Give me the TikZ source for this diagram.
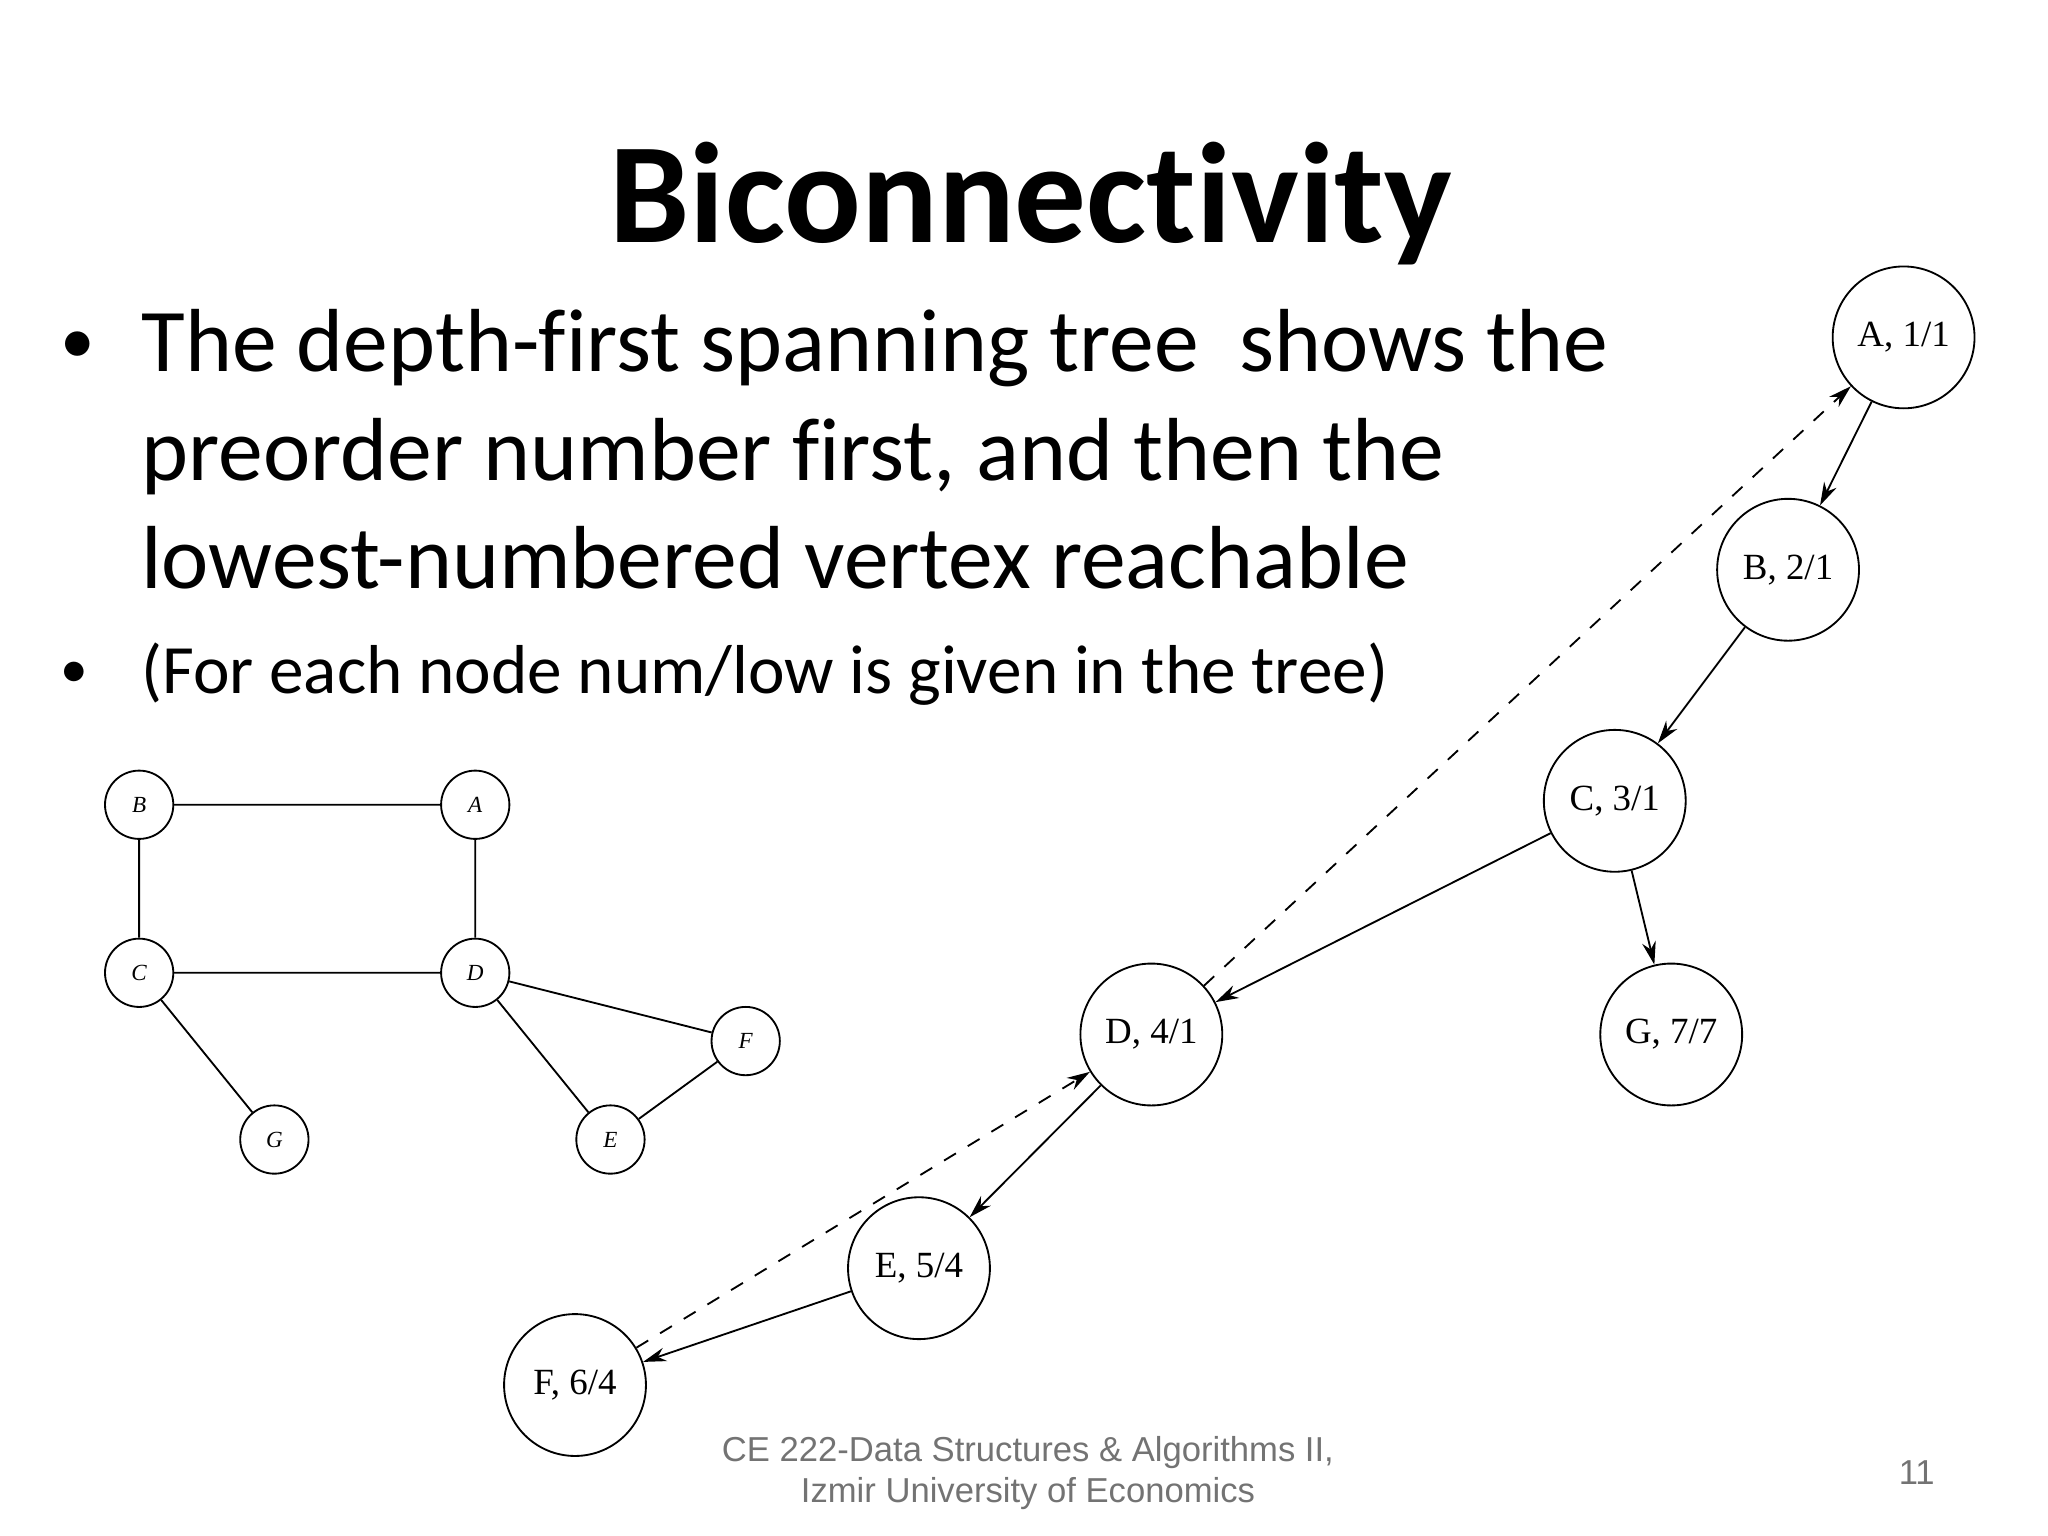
\documentclass[tikz,border=0pt]{standalone}
\usepackage{fontspec}
\setmainfont[Ligatures=NoCommon]{Carlito}
\newfontfamily\serif{Liberation Serif}
\newfontfamily\arial{Liberation Sans}
\usetikzlibrary{arrows.meta}
\definecolor{footgray}{gray}{0.45}
\begin{document}
\begin{tikzpicture}[x=0.01cm,y=-0.01cm,
  tnode/.style={draw,circle,minimum size=1.08cm,inner sep=0pt,font=\serif\fontsize{8}{10}\selectfont},
  gnode/.style={draw,circle,minimum size=0.52cm,inner sep=0pt,font=\serif\itshape\fontsize{5}{6}\selectfont},
  tedge/.style={-{Stealth[length=5pt,width=3pt]},thin},
  bedge/.style={-{Stealth[length=5pt,width=3pt]},thin,dashed},
  txt/.style={anchor=base west,inner sep=0pt}]
\useasboundingbox (0,0) rectangle (1560,1170);
\node[font=\bfseries\fontsize{31}{34}\selectfont] (title) at (785,155) {Biconnectivity};
\node[txt,font=\fontsize{15}{24}\selectfont] (b1) at (45,277) {•};
\node[txt,font=\fontsize{19.4}{24}\selectfont] (l1) at (107,283) {The depth-first spanning tree\ \ shows the};
\node[txt,font=\fontsize{19.4}{24}\selectfont] (l2) at (107,366) {preorder number first, and then the};
\node[txt,font=\fontsize{19.4}{24}\selectfont] (l3) at (107,448) {lowest-numbered vertex reachable};
\node[txt,font=\fontsize{12}{18}\selectfont] (b2) at (45,524) {•};
\node[txt,font=\fontsize{15}{18}\selectfont] (l4) at (107,528) {(For each node num/low is given in the tree)};
% small graph
\node[gnode] (gB) at (106,613) {B};
\node[gnode] (gA) at (362,613) {A};
\node[gnode] (gC) at (106,741) {C};
\node[gnode] (gD) at (362,741) {D};
\node[gnode] (gF) at (568,793) {F};
\node[gnode] (gG) at (209,868) {G};
\node[gnode] (gE) at (465,868) {E};
\draw[thin] (gB)--(gA) (gB)--(gC) (gA)--(gD) (gC)--(gD) (gC)--(gG) (gD)--(gF) (gD)--(gE) (gE)--(gF);
% tree
\node[tnode] (A) at (1450,257) {A, 1/1};
\node[tnode] (B) at (1362,434) {B, 2/1};
\node[tnode] (C) at (1230,610) {C, 3/1};
\node[tnode] (D) at (877,788) {D, 4/1};
\node[tnode] (G) at (1273,788) {G, 7/7};
\node[tnode] (E) at (700,966) {E, 5/4};
\node[tnode] (F) at (438,1055) {F, 6/4};
\draw[tedge] (A)--(B);
\draw[tedge] (B)--(C);
\draw[tedge] (C)--(D);
\draw[tedge] (C)--(G);
\draw[tedge] (D)--(E);
\draw[tedge] (E)--(F);
\draw[bedge] (D)--(A);
\draw[bedge] (F)--(D);
% footer
\node[font=\arial\fontsize{7.5}{9}\selectfont,align=center,text=footgray] (foot) at (783,1122) {CE 222-Data Structures \& Algorithms II,\\Izmir University of Economics};
\node[font=\arial\fontsize{7.5}{9}\selectfont,text=footgray] (num) at (1460,1122) {11};
\end{tikzpicture}
\end{document}
